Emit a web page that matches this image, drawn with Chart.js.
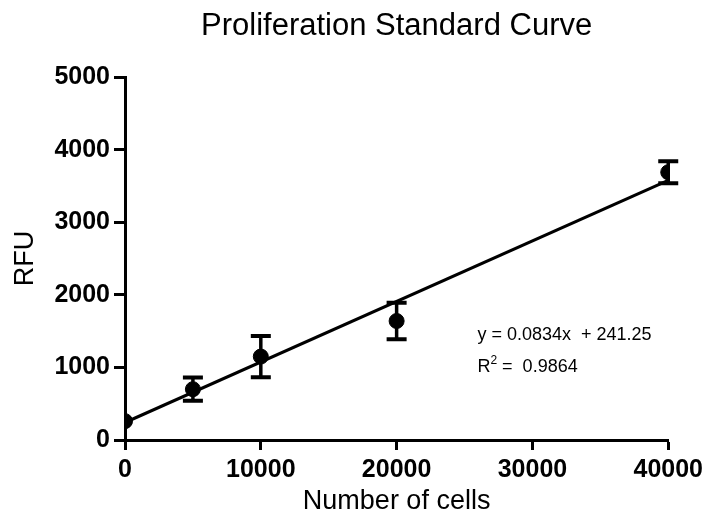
<!DOCTYPE html>
<html>
<head>
    <title>Proliferation Standard Curve</title>
    <script src="https://cdn.jsdelivr.net/npm/chart.js@4.4.1/dist/chart.umd.min.js"></script>
    <style>
        body { margin: 0; background: #fff; }
        #wrap { width: 708px; height: 523px; }
    </style>
</head>
<body>
<div id="wrap"><canvas id="curveChart" width="708" height="523"></canvas></div>
<script>
    // measured points (mean and error half-width)
    cells = [0, 5000, 10000, 20000, 40000];
    rfu = [260, 700, 1150, 1640, 3690];
    rfuErr = [0, 160, 285, 250, 150];

    // fitted line ends, read from y = 0.0834x + 241.25
    fitCells = [0, 40000];
    fitRfu = [241, 3577];

    eqText = 'y = 0.0834x  + 241.25';
    r2Text = '0.9864';

    FONT = "'Liberation Sans', Arial, sans-serif";

    pts = cells.map(function (c, i) { return {x: c, y: rfu[i]}; });
    fitPts = fitCells.map(function (c, i) { return {x: c, y: fitRfu[i]}; });

    // draws the vertical error bars with caps
    errorBars = {
        id: 'errorBars',
        afterDatasetsDraw: function (chart) {
            const ctx = chart.ctx;
            const xs = chart.scales.x, ys = chart.scales.y;
            ctx.save();
            ctx.strokeStyle = '#000';
            for (let i = 0; i < cells.length; i++) {
                if (!rfuErr[i]) continue;
                const px = xs.getPixelForValue(cells[i]);
                const top = ys.getPixelForValue(rfu[i] + rfuErr[i]);
                const bot = ys.getPixelForValue(rfu[i] - rfuErr[i]);
                ctx.lineWidth = 3.5;
                ctx.beginPath();
                ctx.moveTo(px, top);
                ctx.lineTo(px, bot);
                ctx.stroke();
                ctx.lineWidth = 4;
                ctx.beginPath();
                ctx.moveTo(px - 10, top);
                ctx.lineTo(px + 10, top);
                ctx.moveTo(px - 10, bot);
                ctx.lineTo(px + 10, bot);
                ctx.stroke();
            }
            ctx.restore();
        }
    };

    // equation and R squared text
    fitLabel = {
        id: 'fitLabel',
        afterDraw: function (chart) {
            const ctx = chart.ctx;
            const xs = chart.scales.x, ys = chart.scales.y;
            const x0 = xs.getPixelForValue(25950);
            const y1 = ys.getPixelForValue(1440);
            const y2 = ys.getPixelForValue(1000);
            ctx.save();
            ctx.fillStyle = '#000';
            ctx.textBaseline = 'middle';
            ctx.textAlign = 'left';
            ctx.font = '18px ' + FONT;
            ctx.fillText(eqText, x0, y1);
            ctx.fillText('R', x0, y2);
            let w = ctx.measureText('R').width;
            ctx.font = '12px ' + FONT;
            ctx.fillText('2', x0 + w, y2 - 7);
            w += ctx.measureText('2').width;
            ctx.font = '18px ' + FONT;
            ctx.fillText(' =  ' + r2Text, x0 + w, y2);
            ctx.restore();
        }
    };

    function plainTick(value) { return String(value); }

    ctx = document.getElementById('curveChart');

    curveChart = new Chart(ctx, {
        type: 'scatter',
        data: {
            datasets: [{
                label: 'fit',
                type: 'line',
                data: fitPts,
                borderColor: '#000',
                borderWidth: 3,
                pointRadius: 0,
                fill: false
            }, {
                label: 'RFU',
                data: pts,
                backgroundColor: '#000',
                borderColor: '#000',
                pointRadius: 7.5,
                pointHoverRadius: 7.5
            }]
        },
        options: {
            responsive: false,
            animation: false,
            layout: { padding: { left: 0, right: 36, top: 0, bottom: 0 } },
            plugins: {
                legend: { display: false },
                tooltip: { enabled: false },
                title: {
                    display: true,
                    text: 'Proliferation Standard Curve',
                    fullSize: false,
                    color: '#000',
                    font: { family: FONT, size: 31, weight: 'normal' },
                    padding: { top: 8, bottom: 32 }
                }
            },
            scales: {
                x: {
                    type: 'linear',
                    min: 0,
                    max: 40000,
                    afterFit: function (s) { s.height = 83; },
                    ticks: {
                        stepSize: 10000,
                        color: '#000',
                        padding: 5,
                        maxRotation: 0,
                        callback: plainTick,
                        font: { family: FONT, size: 25, weight: 'bold' }
                    },
                    grid: { drawOnChartArea: false, color: '#000', tickLength: 10, tickWidth: 3 },
                    border: { color: '#000', width: 3 },
                    title: {
                        display: true,
                        text: 'Number of cells',
                        color: '#000',
                        font: { family: FONT, size: 27, weight: 'normal' },
                        padding: { top: 0, bottom: 5 }
                    }
                },
                y: {
                    min: 0,
                    max: 5000,
                    afterFit: function (s) { s.width = 125; },
                    ticks: {
                        stepSize: 1000,
                        color: '#000',
                        padding: 4,
                        callback: plainTick,
                        font: { family: FONT, size: 25, weight: 'bold' }
                    },
                    grid: { drawOnChartArea: false, color: '#000', tickLength: 11, tickWidth: 3 },
                    border: { color: '#000', width: 3 },
                    title: {
                        display: true,
                        text: 'RFU',
                        color: '#000',
                        font: { family: FONT, size: 27, weight: 'normal' },
                        padding: { top: 9, bottom: 0 }
                    }
                }
            }
        },
        plugins: [errorBars, fitLabel]
    });
</script>
</body>
</html>
